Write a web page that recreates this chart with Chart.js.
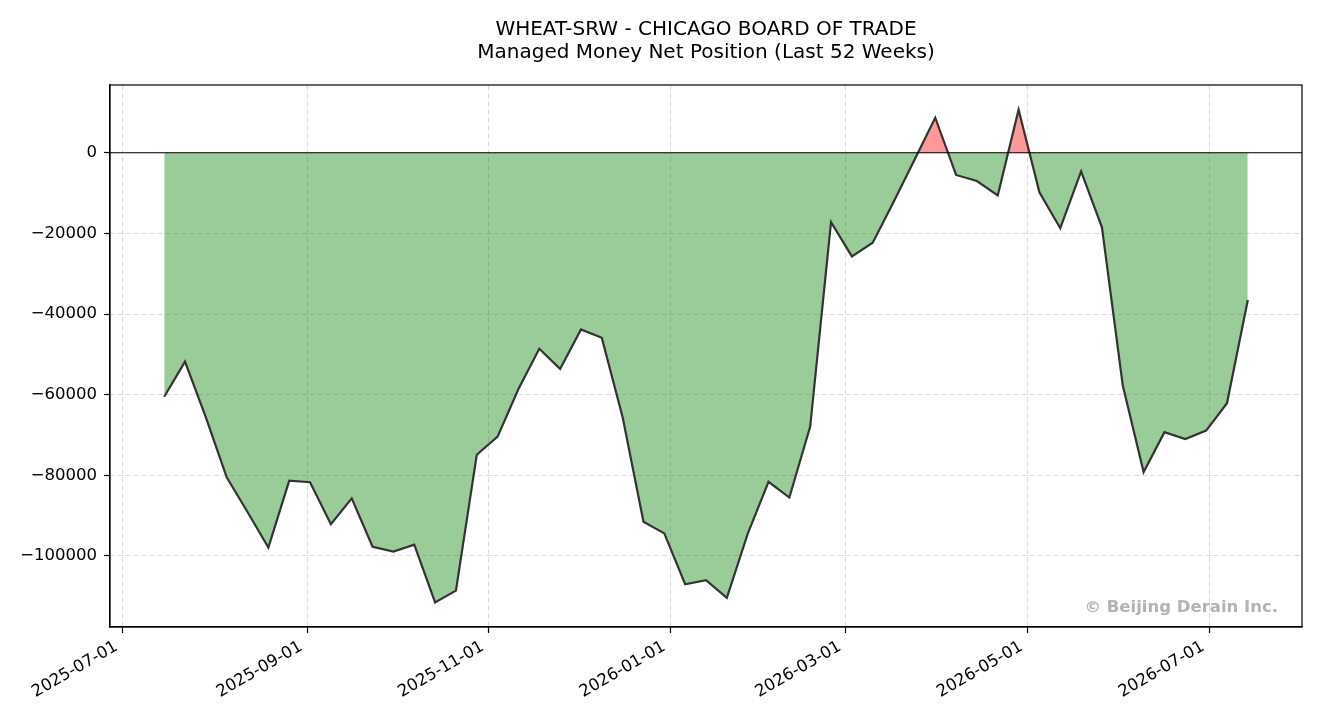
<!DOCTYPE html>
<html>
<head>
<meta charset="utf-8">
<script src="https://cdn.jsdelivr.net/npm/chart.js@4.4.1/dist/chart.umd.min.js"></script>
<style>
  html, body { margin: 0; padding: 0; background: #fff; }
</style>
</head>
<body>
<canvas id="cotChart" width="1320" height="720"></canvas>
<script>
const titleLines = ['WHEAT-SRW - CHICAGO BOARD OF TRADE', 'Managed Money Net Position (Last 52 Weeks)'];
const watermarkText = '\u00a9 Beijing Derain Inc.';

// weekly report dates (Tuesdays)
const reportDates = [
    '2025-07-15', '2025-07-22', '2025-07-29', '2025-08-05', '2025-08-12', '2025-08-19', '2025-08-26',
    '2025-09-02', '2025-09-09', '2025-09-16', '2025-09-23', '2025-09-30', '2025-10-07', '2025-10-14',
    '2025-10-21', '2025-10-28', '2025-11-04', '2025-11-11', '2025-11-18', '2025-11-25', '2025-12-02',
    '2025-12-09', '2025-12-16', '2025-12-23', '2025-12-30', '2026-01-06', '2026-01-13', '2026-01-20',
    '2026-01-27', '2026-02-03', '2026-02-10', '2026-02-17', '2026-02-24', '2026-03-03', '2026-03-10',
    '2026-03-17', '2026-03-24', '2026-03-31', '2026-04-07', '2026-04-14', '2026-04-21', '2026-04-28',
    '2026-05-05', '2026-05-12', '2026-05-19', '2026-05-26', '2026-06-02', '2026-06-09', '2026-06-16',
    '2026-06-23', '2026-06-30', '2026-07-07', '2026-07-14'
];

// managed money net position (contracts)
const netPositions = [
    -60500, -51800, -65600, -80500, -89100, -97900, -81300,
    -81700, -92100, -85700, -97700, -98900, -97200, -111500,
    -108600, -74900, -70400, -58600, -48600, -53600, -43800,
    -45900, -65600, -91500, -94400, -107000, -106000, -110400,
    -94500, -81600, -85500, -67900, -17200, -25700, -22300,
    -12200, -1800, 8700, -5500, -7000, -10600, 10700,
    -9800, -18700, -4600, -18500, -57700, -79200, -69300,
    -71000, -68900, -62100, -36500
];

const xTickLabels = ['2025-07-01', '2025-09-01', '2025-11-01', '2026-01-01', '2026-03-01', '2026-05-01', '2026-07-01'];
const yTickValues = [0, -20000, -40000, -60000, -80000, -100000];

const FONT = "'DejaVu Sans', sans-serif";
const toTime = s => Date.parse(s + 'T00:00:00Z');
const fmtDate = t => new Date(t).toISOString().slice(0, 10);

const times = reportDates.map(toTime);
const points = times.map((t, i) => ({ x: t, y: netPositions[i] }));

// matplotlib-like 5% margins
const xSpan = times[times.length - 1] - times[0];
const yLo = Math.min(...netPositions), yHi = Math.max(...netPositions);
const ySpan = yHi - yLo;

const framePlugin = {
    id: 'framePlugin',
    afterDatasetsDraw(chart) {
        const { ctx, chartArea: a, scales } = chart;
        const y0 = scales.y.getPixelForValue(0);
        ctx.save();
        ctx.strokeStyle = '#000';
        ctx.lineWidth = 1.1;
        ctx.beginPath();
        ctx.moveTo(a.left, y0);
        ctx.lineTo(a.right, y0);
        ctx.stroke();
        ctx.lineWidth = 1.2;
        ctx.strokeRect(a.left, a.top, a.right - a.left, a.bottom - a.top);
        ctx.restore();
    },
    afterDraw(chart) {
        const { ctx, chartArea: a } = chart;
        ctx.save();
        ctx.fillStyle = '#000';
        ctx.textAlign = 'center';
        ctx.textBaseline = 'alphabetic';
        ctx.font = '20px ' + FONT;
        const cx = (a.left + a.right) / 2;
        ctx.fillText(titleLines[0], cx, 35);
        ctx.fillText(titleLines[1], cx, 58);
        // watermark
        ctx.font = 'bold 16.5px ' + FONT;
        ctx.fillStyle = 'rgba(128,128,128,0.6)';
        ctx.textAlign = 'right';
        ctx.fillText(watermarkText, a.right - 24, a.bottom - 15);
        ctx.restore();
    }
};

new Chart(document.getElementById('cotChart'), {
    type: 'line',
    data: {
        datasets: [{
            data: points,
            borderColor: '#333333',
            borderWidth: 2.2,
            pointRadius: 0,
            tension: 0,
            fill: {
                target: { value: 0 },
                above: 'rgba(255, 0, 0, 0.4)',
                below: 'rgba(0, 128, 0, 0.4)'
            }
        }]
    },
    options: {
        responsive: false,
        animation: false,
        layout: { padding: { top: 85, right: 18, left: 0, bottom: 0 } },
        plugins: {
            legend: { display: false },
            tooltip: { enabled: false }
        },
        scales: {
            x: {
                type: 'linear',
                min: times[0] - xSpan * 0.05,
                max: times[times.length - 1] + xSpan * 0.05,
                afterBuildTicks: scale => {
                    scale.ticks = xTickLabels.map(s => ({ value: toTime(s) }));
                },
                afterFit: scale => { scale.height = 93; },
                ticks: {
                    minRotation: 30,
                    maxRotation: 30,
                    autoSkip: false,
                    padding: 4,
                    labelOffset: -6,
                    color: '#000',
                    font: { family: FONT, size: 16.5 },
                    callback: v => fmtDate(v)
                },
                grid: {
                    color: 'rgba(176,176,176,0.45)',
                    tickColor: '#000',
                    tickLength: 6,
                    tickWidth: 1.2
                },
                border: { display: true, color: '#000', width: 1.2, dash: [5, 3] }
            },
            y: {
                min: yLo - ySpan * 0.05,
                max: yHi + ySpan * 0.05,
                afterBuildTicks: scale => {
                    scale.ticks = yTickValues.map(v => ({ value: v }));
                },
                afterFit: scale => { scale.width = 110; },
                ticks: {
                    padding: 7,
                    color: '#000',
                    font: { family: FONT, size: 16.5 },
                    callback: v => (v < 0 ? '\u2212' + Math.abs(v) : String(v))
                },
                grid: {
                    color: 'rgba(176,176,176,0.45)',
                    tickColor: '#000',
                    tickLength: 6,
                    tickWidth: 1.2
                },
                border: { display: true, color: '#000', width: 1.2, dash: [5, 3] }
            }
        }
    },
    plugins: [framePlugin]
});
</script>
</body>
</html>
